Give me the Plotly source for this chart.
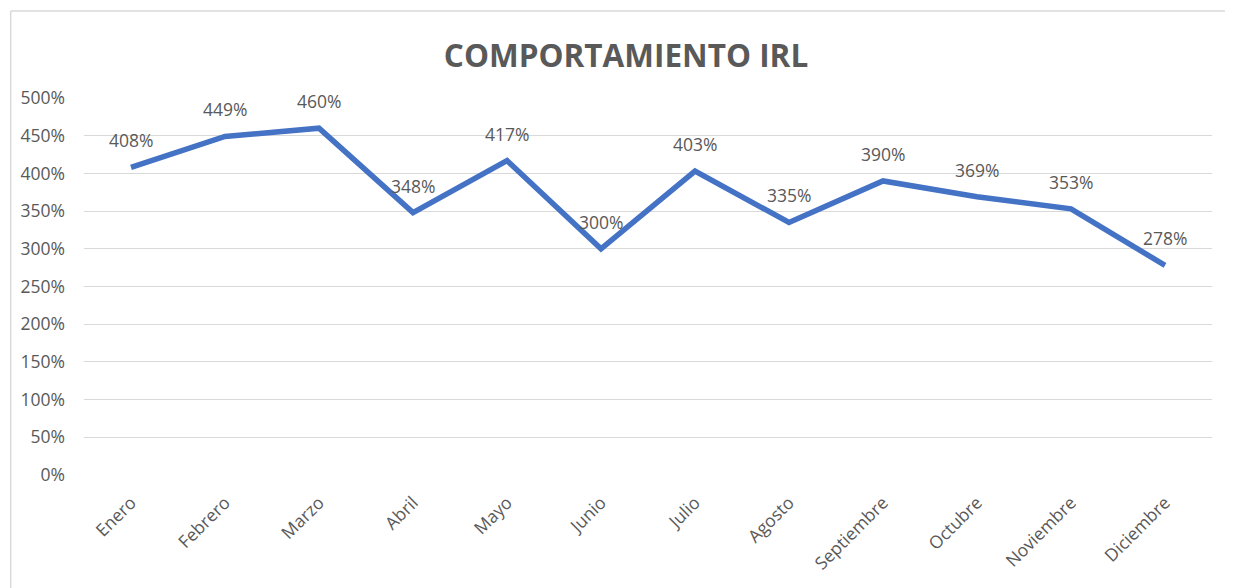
import plotly.graph_objects as go

months = ["Enero", "Febrero", "Marzo", "Abril", "Mayo", "Junio", "Julio",
          "Agosto", "Septiembre", "Octubre", "Noviembre", "Diciembre"]
irl = [4.08, 4.49, 4.60, 3.48, 4.17, 3.00, 4.03, 3.35, 3.90, 3.69, 3.53, 2.78]
y_ticks = [0, 0.5, 1, 1.5, 2, 2.5, 3, 3.5, 4, 4.5, 5]
y_labels = ["0%", "50%", "100%", "150%", "200%", "250%", "300%", "350%",
            "400%", "450%", "500%"]
title_text = "COMPORTAMIENTO IRL"

FONT = "Open Sans, sans-serif"
GRAY = "#595959"

fig = go.Figure()
fig.add_trace(go.Scatter(
    x=months, y=irl, mode="lines",
    line=dict(color="#4472C4", width=5.5),
    hoverinfo="skip", showlegend=False,
))

for m, v in zip(months, irl):
    fig.add_annotation(
        x=m, y=v, text=f"{round(v*100)}%", showarrow=False,
        yshift=27, font=dict(family=FONT, size=17.5, color=GRAY),
    )

# chart-area border (top and left visible in the reference)
fig.add_shape(type="line", xref="paper", yref="paper",
              x0=-0.0650, x1=1.1, y0=1.2308, y1=1.2308,
              line=dict(color="#d9d9d9", width=1.5))
fig.add_shape(type="line", xref="paper", yref="paper",
              x0=-0.0650, x1=-0.0650, y0=1.2308, y1=-0.4,
              line=dict(color="#d9d9d9", width=1.5))

fig.update_layout(
    width=1225, height=580,
    margin=dict(l=74, r=21, t=90, b=113),
    paper_bgcolor="white", plot_bgcolor="white",
    title=dict(text=f"<b>{title_text}</b>", x=0.5045, xanchor="center",
               y=0.918, yanchor="middle",
               font=dict(family=FONT, size=31.5, color=GRAY)),
    font=dict(family=FONT, color=GRAY),
    xaxis=dict(
        type="category", range=[-0.5, 11.5], tickangle=-45,
        showgrid=False, zeroline=False, showline=False, ticks="",
        ticklabelstandoff=13,
        tickfont=dict(family=FONT, size=17.5, color=GRAY),
    ),
    yaxis=dict(
        range=[0, 5], tickvals=y_ticks, ticktext=y_labels,
        showgrid=True, gridcolor="#d9d9d9", gridwidth=1.3,
        zeroline=False, showline=False, ticks="", ticklabelstandoff=18,
        tickfont=dict(family=FONT, size=17.5, color=GRAY),
    ),
)

fig.write_html("out.html")
